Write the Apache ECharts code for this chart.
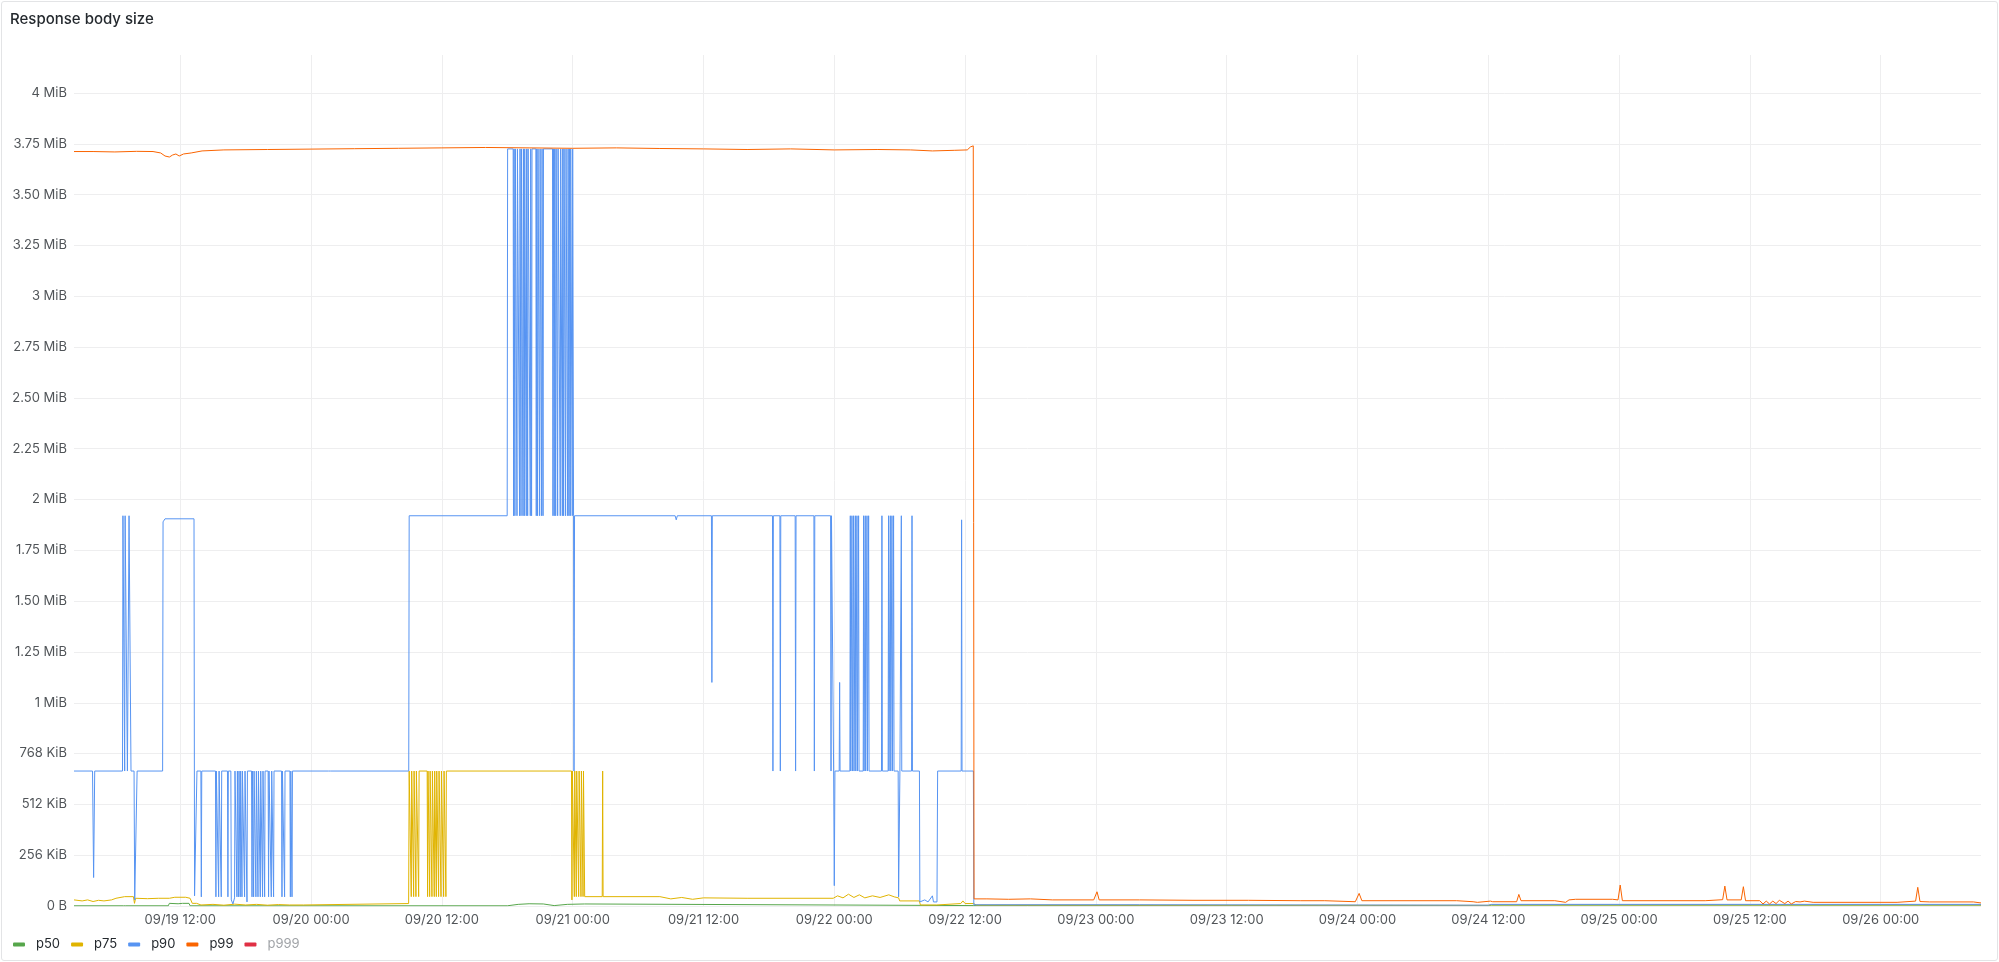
<!DOCTYPE html>
<html>
<head>
<meta charset="utf-8">
<script src="https://cdn.jsdelivr.net/npm/echarts@6/dist/echarts.min.js"></script>
<style>
  html, body { margin: 0; padding: 0; background: #ffffff; }
  #frame { position: absolute; left: 1px; top: 1px; width: 1997px; height: 960px; box-sizing: border-box;
           border: 1px solid #e3e4e6; border-radius: 3px; }
  #chart { position: absolute; left: 0; top: 0; width: 1999px; height: 962px; }
</style>
</head>
<body>
<div id="frame"></div>
<div id="chart"></div>
<script>
// x values: hours since 09/19 00:00 ; y values: MiB
const seriesNames = ['p50', 'p75', 'p90', 'p99', 'p999'];
const xTickHours = [12, 24, 36, 48, 60, 72, 84, 96, 108, 120, 132, 144, 156, 168];

const p50 = [
  [2.25,0.001],[6.8,0.001],[6.9,0.005],[7.0,0.001],[10.9,0.001],[11.0,0.013],[11.8,0.011],[12.2,0.013],[12.8,0.013],[12.9,0.001],
  [42.0,0.001],[42.1,0.01],[43.0,0.008],[44.0,0.011],[45.3,0.01],[45.4,0.002],[46.3,0.002],[46.4,0.01],[47.5,0.008],[49.1,0.01],[49.2,0.001],
  [84.8,0.002],[132.0,0.002],[132.3,0.004],[177.2,0.004]
];

const p75 = [
  [2.25,0.03],[3.0,0.025],[3.5,0.03],[4.0,0.022],[4.5,0.028],[5.0,0.025],[5.7,0.03],[6.1,0.038],[6.9,0.046],[7.7,0.046],[7.8,0.013],[7.9,0.038],
  [9.0,0.036],[10.0,0.038],[11.0,0.038],[11.5,0.043],[12.5,0.043],[12.9,0.038],[13.1,0.013],[13.5,0.013],[13.9,0.005],[15.0,0.008],[16.0,0.004],
  [17.0,0.009],[18.0,0.005],[19.0,0.008],[20.0,0.004],[21.0,0.007],[22.0,0.005],[23.3,0.005],[23.35,0.012],[32.95,0.012],[33.0,0.664],
  [33.15,0.664],[33.19,0.046],[33.23,0.664],[33.37,0.664],[33.41,0.046],[33.45,0.664],[33.58,0.664],[33.62,0.046],[33.66,0.664],
  [33.83,0.664],[33.87,0.046],[33.91,0.664],[34.65,0.664],[34.69,0.046],[34.73,0.664],[34.84,0.664],[34.88,0.046],[34.92,0.664],
  [35.05,0.664],[35.09,0.046],[35.13,0.664],[35.26,0.664],[35.3,0.046],[35.34,0.664],[35.45,0.664],[35.49,0.046],[35.53,0.664],
  [35.66,0.664],[35.7,0.046],[35.74,0.664],[35.88,0.664],[35.92,0.046],[35.96,0.664],[36.12,0.664],[36.16,0.046],[36.2,0.664],
  [36.33,0.664],[36.37,0.046],[36.41,0.664],[47.89,0.664],[47.93,0.03],[47.97,0.664],[48.11,0.664],[48.15,0.046],[48.19,0.664],
  [48.29,0.664],[48.33,0.046],[48.37,0.664],[48.51,0.664],[48.55,0.046],[48.59,0.664],[48.72,0.664],[48.76,0.046],[48.8,0.664],
  [48.91,0.664],[48.95,0.046],[48.99,0.664],[49.06,0.664],[49.1,0.046],[50.71,0.046],[50.75,0.664],[50.79,0.046],[56.0,0.046],
  [57.0,0.035],[58.0,0.042],[59.0,0.033],[60.0,0.04],[64.0,0.038],[71.9,0.038],[72.3,0.05],[72.8,0.04],[73.3,0.058],[73.8,0.042],
  [74.3,0.055],[74.8,0.04],[75.5,0.05],[76.2,0.042],[77.0,0.055],[77.5,0.045],[77.9,0.04],[78.0,0.025],[79.8,0.025],[79.9,0.005],
  [81.4,0.005],[81.5,0.012],[83.6,0.012],[83.8,0.025],[84.0,0.012],[84.8,0.012],[85.0,0.005],[132.0,0.003],[132.3,0.006],[177.2,0.006]
];

const p90 = [
  [2.25,0.664],[3.95,0.664],[4.05,0.14],[4.15,0.664],
  [6.7,0.664],[6.74,1.92],[6.86,1.92],[6.9,0.664],[6.94,1.92],[7.11,1.92],[7.15,0.664],[7.26,0.664],[7.3,1.92],[7.44,1.92],[7.48,0.664],
  [7.76,0.664],[7.82,0.03],[7.98,0.03],[8.04,0.664],
  [10.38,0.664],[10.42,1.89],[10.6,1.905],[13.26,1.905],[13.31,0.05],[13.49,0.05],[13.53,0.664],
  [13.89,0.664],[13.93,0.045],[13.97,0.664],[15.23,0.664],[15.27,0.045],[15.31,0.664],[15.48,0.664],[15.52,0.045],[15.56,0.664],
  [15.72,0.664],[15.76,0.045],[15.8,0.664],[16.33,0.664],[16.37,0.045],[16.41,0.664],[16.64,0.664],[16.68,0.03],[16.83,0.01],[16.98,0.04],[17.02,0.664],
  [17.16,0.664],[17.2,0.045],[17.24,0.664],[17.31,0.664],[17.35,0.045],[17.39,0.664],[17.46,0.664],[17.5,0.045],[17.54,0.664],
  [17.62,0.664],[17.66,0.045],[17.7,0.664],[17.86,0.664],[17.9,0.045],[17.94,0.664],[18.08,0.664],[18.12,0.02],[18.16,0.664],
  [18.54,0.664],[18.58,0.045],[18.62,0.664],[18.69,0.664],[18.73,0.045],[18.77,0.664],[18.9,0.664],[18.94,0.045],[18.98,0.664],
  [19.09,0.664],[19.13,0.045],[19.17,0.664],[19.3,0.664],[19.34,0.045],[19.38,0.664],[19.51,0.664],[19.55,0.045],[19.59,0.664],
  [19.7,0.664],[19.74,0.045],[19.78,0.664],[20.06,0.664],[20.1,0.045],[20.14,0.664],[20.31,0.664],[20.35,0.045],[20.39,0.664],
  [20.52,0.664],[20.56,0.045],[20.6,0.664],[21.29,0.664],[21.33,0.045],[21.37,0.664],[21.53,0.664],[21.57,0.045],[21.61,0.664],
  [22.06,0.664],[22.1,0.045],[22.14,0.664],[22.21,0.664],[22.25,0.045],[22.29,0.664],
  [25.6,0.664],[25.7,0.672],[25.8,0.664],[32.96,0.664],[33.0,1.92],[41.99,1.92],[42.03,3.725],
  [42.54,3.725],[42.58,1.92],[42.62,3.725],[42.66,3.725],[42.7,1.92],[42.74,3.725],[42.85,3.725],[42.89,1.92],[42.93,3.725],
  [43.09,3.725],[43.13,1.92],[43.17,3.725],[43.22,3.725],[43.26,1.92],[43.3,3.725],[43.4,3.725],[43.44,1.92],[43.48,3.725],
  [43.52,3.725],[43.56,1.92],[43.6,3.725],[43.7,3.725],[43.74,1.92],[43.78,3.725],[43.83,3.725],[43.87,1.92],[43.91,3.725],
  [44.07,3.725],[44.11,1.92],[44.15,3.725],[44.19,3.725],[44.23,1.92],[44.27,3.725],[44.62,3.725],[44.66,1.92],[44.7,3.725],
  [44.74,3.725],[44.78,1.92],[44.82,3.725],[44.93,3.725],[44.97,1.92],[45.01,3.725],[45.11,3.725],[45.15,1.92],[45.19,3.725],
  [45.24,3.725],[45.28,1.92],[45.32,3.725],[46.15,3.725],[46.19,1.92],[46.23,3.725],[46.27,3.725],[46.31,1.92],[46.35,3.725],
  [46.4,3.725],[46.44,1.92],[46.48,3.725],[46.58,3.725],[46.62,1.92],[46.66,3.725],[46.82,3.725],[46.86,1.92],[46.9,3.725],
  [47.01,3.725],[47.05,1.92],[47.09,3.725],[47.13,3.725],[47.17,1.92],[47.21,3.725],[47.31,3.725],[47.35,1.92],[47.39,3.725],
  [47.5,3.725],[47.54,1.92],[47.58,3.725],[47.62,3.725],[47.66,1.92],[47.7,3.725],[47.74,3.725],[47.78,1.92],[47.82,3.725],
  [47.92,3.725],[47.96,1.92],[48.0,3.725],[48.04,3.725],[48.08,1.92],[48.12,0.664],[48.17,1.92],
  [57.4,1.92],[57.5,1.9],[57.6,1.92],[60.73,1.92],[60.77,1.10],[60.81,1.92],
  [66.33,1.92],[66.37,0.664],[66.41,1.92],[67.01,1.92],[67.05,0.664],[67.09,1.92],[68.41,1.92],[68.45,0.664],[68.49,1.92],
  [70.13,1.92],[70.17,0.664],[70.21,1.92],[71.66,1.92],[71.7,0.664],[71.74,1.92],
  [71.9,1.92],[71.94,0.664],[72.0,0.10],[72.06,0.664],[72.45,0.664],[72.49,1.10],[72.53,0.664],
  [73.43,0.664],[73.47,1.92],[73.51,0.664],[73.58,0.664],[73.62,1.92],[73.66,0.664],[73.73,0.664],[73.77,1.92],[73.81,0.664],
  [73.89,0.664],[73.93,1.92],[73.97,0.664],[74.04,0.664],[74.08,1.92],[74.12,0.664],[74.19,0.664],[74.23,1.92],[74.27,0.664],
  [74.65,0.664],[74.69,1.92],[74.73,0.664],[74.8,0.664],[74.84,1.92],[74.88,0.664],[74.96,0.664],[75.0,1.92],[75.04,0.664],
  [75.11,0.664],[75.15,1.92],[75.19,0.664],[76.33,0.664],[76.37,1.92],[76.41,0.664],[76.94,0.664],[76.98,1.92],[77.02,0.664],
  [77.1,0.664],[77.14,1.92],[77.18,0.664],[77.25,0.664],[77.29,1.92],[77.33,0.664],[77.4,0.664],[77.44,1.92],[77.48,0.664],
  [77.86,0.664],[77.9,0.045],[77.98,0.045],[78.02,0.664],[78.11,0.664],[78.15,1.92],[78.19,0.664],[79.09,0.664],[79.13,1.92],[79.17,0.664],
  [79.81,0.664],[79.85,0.02],[80.3,0.03],[80.6,0.02],[81.0,0.05],[81.1,0.02],[81.42,0.02],[81.48,0.664],
  [83.64,0.664],[83.68,1.90],[83.72,0.664],[84.76,0.664],[84.8,0.006],[100.0,0.006],[132.0,0.004],[132.3,0.008],[177.2,0.008]
];

const p99 = [
  [2.25,3.712],[4.0,3.712],[6.0,3.71],[8.0,3.713],[9.5,3.712],[10.2,3.705],[10.6,3.69],[11.0,3.685],[11.3,3.695],[11.6,3.70],[11.9,3.69],
  [12.3,3.70],[13.0,3.705],[14.0,3.715],[16.0,3.72],[20.0,3.722],[24.0,3.724],[28.0,3.726],[32.0,3.728],[36.0,3.73],[40.0,3.732],
  [44.0,3.73],[48.0,3.728],[52.0,3.73],[56.0,3.727],[60.0,3.725],[64.0,3.722],[68.0,3.725],[72.0,3.72],[76.0,3.722],[79.0,3.72],
  [81.0,3.715],[83.0,3.718],[84.2,3.72],[84.5,3.735],[84.75,3.74],[84.82,0.035],[86.0,0.035],[88.0,0.033],[90.0,0.035],[92.0,0.03],
  [95.8,0.03],[96.1,0.07],[96.3,0.03],[100.0,0.03],[105.0,0.028],[110.0,0.028],[114.8,0.026],[117.0,0.026],[117.1,0.021],[119.8,0.021],
  [120.15,0.062],[120.4,0.026],[129.1,0.026],[129.2,0.018],[130.6,0.021],[131.0,0.018],[132.2,0.024],[132.4,0.021],[134.6,0.021],
  [134.8,0.057],[135.0,0.026],[138.1,0.026],[138.2,0.018],[139.1,0.018],[139.4,0.03],[140.0,0.033],[143.4,0.033],[143.9,0.03],
  [144.1,0.103],[144.3,0.026],[151.9,0.026],[152.0,0.031],[153.5,0.031],[153.7,0.098],[153.9,0.03],[155.2,0.03],[155.4,0.095],
  [155.6,0.026],[156.9,0.026],[157.2,0.010],[157.5,0.024],[157.8,0.010],[158.1,0.024],[158.4,0.012],[158.7,0.028],[159.2,0.012],
  [159.5,0.024],[159.8,0.010],[160.2,0.022],[160.6,0.02],[161.0,0.024],[161.8,0.018],[169.5,0.018],[169.6,0.024],[171.2,0.024],
  [171.4,0.092],[171.6,0.022],[172.5,0.02],[176.5,0.02],[177.2,0.015]
];

const p999 = [];

const colors = ['#56a64b', '#e0b400', '#5794f2', '#fa6400', '#e02f44'];
const seriesData = [p50, p75, p90, p99, p999];

function fmtY(v) {
  if (Math.abs(v * 4 - Math.round(v * 4)) > 1e-6) return '';
  if (v === 0) return '0 B';
  if (v < 1) return Math.round(v * 1024) + ' KiB';
  if (Math.abs(v - Math.round(v)) < 1e-9) return Math.round(v) + ' MiB';
  return v.toFixed(2) + ' MiB';
}
function fmtX(h) {
  const d = 19 + Math.floor(h / 24);
  const hr = Math.round(h % 24);
  return '09/' + d + ' ' + String(hr).padStart(2, '0') + ':00';
}

const chart = echarts.init(document.getElementById('chart'), null, { renderer: 'canvas' });
const textColor = 'rgba(36,41,46,0.8)';
chart.setOption({
  animation: false,
  textStyle: { fontFamily: 'Inter, "Noto Sans", sans-serif' },
  title: {
    text: 'Response body size', left: 10, top: 12, padding: 0,
    textStyle: { fontFamily: 'Inter', fontSize: 15, fontWeight: 500, color: '#24292e' }
  },
  legend: {
    left: 13, top: 938, padding: 0, icon: 'roundRect', itemWidth: 12, itemHeight: 4, itemGap: 11,
    textStyle: { fontFamily: 'Inter', fontSize: 13, color: '#24292e', padding: [0, 0, 0, 6] },
    data: seriesNames.map(n => n === 'p999'
      ? { name: n, textStyle: { color: '#a0a3a7' } }
      : { name: n })
  },
  grid: { left: 74, right: 18, top: 55, bottom: 56, containLabel: false },
  xAxis: {
    type: 'value', min: 2.25, max: 177.2,
    axisLine: { show: false },
    axisTick: { show: false, customValues: xTickHours },
    axisLabel: { customValues: xTickHours, formatter: fmtX, margin: 8, color: textColor, fontSize: 13, fontFamily: 'Inter' },
    splitLine: { show: true, lineStyle: { color: '#eeeeef', width: 1 } }
  },
  yAxis: {
    type: 'value', min: 0, max: 4.187, interval: 0.25,
    axisLine: { show: false }, axisTick: { show: false },
    axisLabel: { formatter: fmtY, showMaxLabel: false, margin: 7, color: textColor, fontSize: 13, fontFamily: 'Inter' },
    splitLine: { show: true, showMaxLine: false, lineStyle: { color: '#eeeeef', width: 1 } }
  },
  series: seriesNames.map((n, i) => ({
    name: n, type: 'line', data: seriesData[i], showSymbol: false, symbol: 'none',
    color: colors[i], itemStyle: { color: colors[i] },
    lineStyle: { width: 1, color: colors[i] },
    emphasis: { disabled: true }, silent: true, z: 2 + i
  }))
});
</script>
</body>
</html>
